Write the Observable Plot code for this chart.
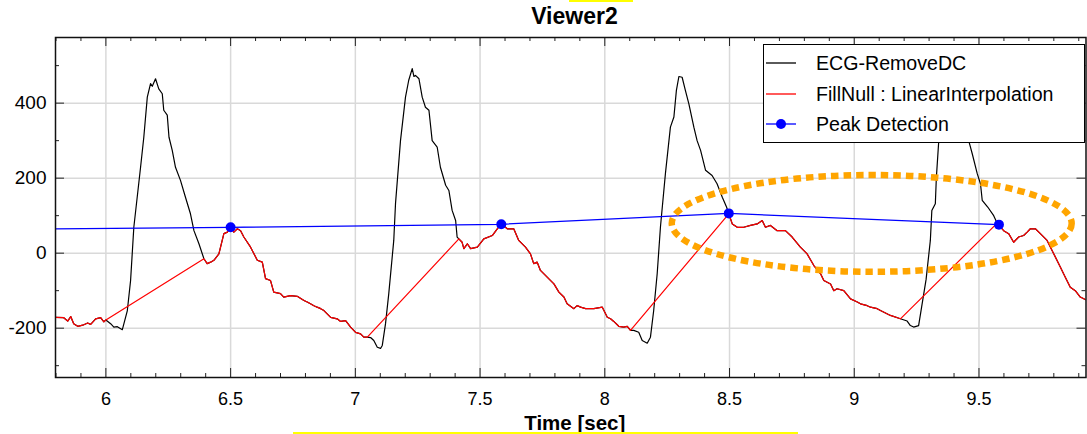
<!DOCTYPE html>
<html><head><meta charset="utf-8">
<script src="https://cdn.jsdelivr.net/npm/d3@7"></script>
<script src="https://cdn.jsdelivr.net/npm/@observablehq/plot@0.6"></script>
<style>
html,body{margin:0;padding:0;background:#fff;}
#wrap{position:relative;width:1087px;height:434px;overflow:hidden;font-family:"Liberation Sans",Arial,Helvetica,sans-serif;}
#wrap svg{position:absolute;left:0;top:0;}
.legend{position:absolute;left:763px;top:44px;width:322px;height:99px;box-sizing:border-box;border:1.5px solid #000;background:#fff;}
.lrow{position:absolute;left:0;height:22px;line-height:22px;font-size:19.6px;color:#000;white-space:nowrap;}
.lrow svg{position:absolute;left:8px;top:0;}
.lrow span{position:absolute;left:52px;top:0;}
.hl{position:absolute;background:#ffff00;}
</style></head><body><div id="wrap"></div><script>
// ---- data ----
const ecgT = [5.798,5.831,5.847,5.859,5.871,5.887,5.907,5.927,5.939,5.959,5.979,5.992,
6.000,6.019,6.032,6.046,6.066,6.086,6.099,6.112,6.139,6.152,6.166,6.179,6.186,6.199,6.212,6.226,6.232,6.246,6.253,6.266,6.279,6.299,6.319,6.339,6.353,6.373,6.393,
6.406,6.420,6.433,6.453,6.473,6.487,6.500,6.513,6.527,6.540,6.553,6.580,6.607,6.627,6.640,6.660,6.673,6.700,6.713,6.740,6.767,6.794,6.807,6.820,6.834,6.847,6.861,6.874,6.901,6.927,6.941,6.961,6.981,7.001,7.021,7.034,
7.048,7.061,7.074,7.088,7.101,7.108,7.121,7.134,7.154,7.161,7.181,7.201,7.214,7.228,7.235,7.241,7.255,7.268,7.281,7.295,7.308,7.328,7.341,7.362,7.375,7.388,7.402,7.408,7.415,
7.428,7.435,7.449,7.462,7.489,7.515,7.549,7.569,7.585,7.609,7.635,7.655,7.682,7.702,7.715,7.729,7.742,7.769,7.796,7.816,7.836,7.849,7.876,7.889,7.903,7.923,7.956,7.990,8.010,8.023,8.036,8.056,8.076,8.090,
8.103,8.116,8.136,8.150,8.170,8.183,8.196,8.210,8.223,8.243,8.263,8.277,8.287,8.297,8.310,8.323,8.337,8.357,8.370,8.384,8.404,8.430,8.450,8.471,8.488,8.497,
8.511,8.531,8.557,8.584,8.611,8.631,8.644,8.664,8.691,8.724,8.751,8.784,8.811,8.838,8.865,8.878,8.905,8.918,8.931,8.958,8.985,9.012,9.025,9.052,9.065,9.092,9.105,9.145,
9.185,9.212,9.225,9.238,9.258,9.270,9.288,9.305,9.311,9.325,9.329,9.338,9.355,9.370,9.385,9.400,9.420,9.440,9.462,9.473,9.493,9.506,9.513,9.535,9.559,9.573,
9.580,9.599,9.619,9.639,9.659,9.679,9.693,9.706,9.726,9.746,9.773,9.800,9.826,9.846,9.866,9.886,9.906,9.933];
const ecgV = [-171,-172,-181,-169,-188,-195,-192,-186,-190,-175,-172,-183,
-178,-188,-197,-196,-204,-153,-73,69,229,309,416,452,445,465,438,425,381,368,309,274,229,194,149,105,60,25,-15,
-28,-24,-19,-2,52,56,69,56,65,60,43,16,-19,-24,-68,-73,-104,-108,-117,-113,-115,-126,-130,-135,-140,-144,-148,-153,-171,-175,-182,-180,-197,-211,-215,-224,
-224,-225,-233,-251,-254,-246,-188,-108,34,132,300,416,461,492,471,474,465,416,389,381,300,283,229,181,167,114,87,43,38,
29,12,25,12,16,38,47,65,78,65,65,34,16,-2,-28,-24,-46,-64,-82,-104,-117,-135,-148,-140,-144,-148,-148,-144,-171,-175,-182,-195,-197,-195,
-206,-206,-211,-233,-240,-224,-153,-55,69,212,336,363,434,471,469,434,398,336,300,274,221,207,185,149,123,105,
78,69,69,74,78,87,69,74,60,60,43,16,-2,-33,-55,-73,-82,-100,-95,-100,-122,-130,-135,-140,-144,-148,-153,-166,
-175,-181,-193,-197,-193,-144,-70,34,114,132,200,292,400,455,472,462,400,340,292,265,212,185,141,123,100,80,
74,60,52,29,43,47,56,65,65,52,34,-2,-37,-64,-91,-100,-117,-126];
// null intervals (samples strictly inside are removed, then filled linearly)
const gapStart = [6.000, 7.048, 8.103, 9.185];
const gapEnd   = [6.393, 7.415, 8.497, 9.573];
// detected peaks
const peakT = [5.45, 6.500, 7.585, 8.497, 9.580];
const peakV = [63, 69, 77, 106, 76];
// annotation ellipse (data units)
const ellipseT = 9.072, ellipseV = 78, ellipseRT = 0.8016, ellipseRV = 129;
// ticks
const xMajor = [6, 6.5, 7, 7.5, 8, 8.5, 9, 9.5];
const xMinor = [5.8,5.9,6.1,6.2,6.3,6.4,6.6,6.7,6.8,6.9,7.1,7.2,7.3,7.4,7.6,7.7,7.8,7.9,8.1,8.2,8.3,8.4,8.6,8.7,8.8,8.9,9.1,9.2,9.3,9.4,9.6,9.7,9.8,9.9];
const yMajor = [-200, 0, 200, 400];
const yMinor = [-300, -100, 100, 300, 500];
const xDomain = [5.798, 9.929];
const yDomain = [-331.5, 575];
const titleText = "Viewer2";
const xLabel = "Time [sec]";
const seriesNames = ["ECG-RemoveDC", "FillNull : LinearInterpolation", "Peak Detection"];
const seriesColors = ["#000000", "#ff0000", "#0000ff"];

// ---- build tables ----
const ecg = ecgT.map((t, i) => ({t, v: ecgV[i]}));
const filled = ecg.filter(d => !gapStart.some((s, j) => d.t > s && d.t < gapEnd[j]));
const peaks = peakT.map((t, i) => ({t, v: peakV[i]}));

const W = 1087, H = 434, mT = 37, mB = 57, mL = 55, mR = 1.5;
const fH = H - mT - mB, fW = W - mL - mR;

function ellipseMark(index, scales) {
  const cx = scales.x(ellipseT), cy = scales.y(ellipseV);
  const rx = Math.abs(scales.x(ellipseT + ellipseRT) - cx);
  const ry = Math.abs(scales.y(ellipseV + ellipseRV) - cy);
  const e = document.createElementNS("http://www.w3.org/2000/svg", "ellipse");
  e.setAttribute("cx", cx); e.setAttribute("cy", cy);
  e.setAttribute("rx", rx); e.setAttribute("ry", ry);
  e.setAttribute("fill", "none");
  e.setAttribute("stroke", "#ffa500");
  e.setAttribute("stroke-width", 6.5);
  e.setAttribute("stroke-dasharray", "7.5,5");
  return e;
}

const plot = Plot.plot({
  width: W, height: H,
  marginTop: mT, marginBottom: mB, marginLeft: mL, marginRight: mR,
  style: {fontFamily: '"Liberation Sans", Arial, sans-serif', color: "#000", background: "transparent"},
  x: {domain: xDomain},
  y: {domain: yDomain},
  marks: [
    Plot.ruleX(xMajor, {x: d => d, stroke: "#d9d9d9", strokeWidth: 1.5}),
    Plot.ruleY(yMajor, {y: d => d, stroke: "#d9d9d9", strokeWidth: 1.5}),
    Plot.line(ecg, {x: "t", y: "v", stroke: seriesColors[0], strokeWidth: 1.2, clip: true}),
    Plot.line(filled, {x: "t", y: "v", stroke: seriesColors[1], strokeWidth: 1.2, clip: true}),
    Plot.line(peaks, {x: "t", y: "v", stroke: seriesColors[2], strokeWidth: 1.3, clip: true}),
    Plot.dot(peaks, {x: "t", y: "v", r: 5, fill: seriesColors[2], stroke: "none", clip: true}),
    ellipseMark,
    // inward ticks on all four sides
    Plot.ruleX(xMajor, {x: d => d, insetTop: fH - 9, stroke: "#222"}),
    Plot.ruleX(xMinor, {x: d => d, insetTop: fH - 4, stroke: "#222"}),
    Plot.ruleX(xMajor, {x: d => d, insetBottom: fH - 9, stroke: "#222"}),
    Plot.ruleX(xMinor, {x: d => d, insetBottom: fH - 4, stroke: "#222"}),
    Plot.ruleY(yMajor, {y: d => d, insetRight: fW - 9, stroke: "#222"}),
    Plot.ruleY(yMinor, {y: d => d, insetRight: fW - 4, stroke: "#222"}),
    Plot.ruleY(yMajor, {y: d => d, insetLeft: fW - 9, stroke: "#222"}),
    Plot.ruleY(yMinor, {y: d => d, insetLeft: fW - 4, stroke: "#222"}),
    Plot.frame({stroke: "#111", strokeWidth: 1.5}),
    Plot.axisX(xMajor, {tickSize: 0, tickPadding: 15, fontSize: 18, tickFormat: d => String(d), label: null}),
    Plot.axisY(yMajor, {tickSize: 0, tickPadding: 9, fontSize: 19, tickFormat: d => String(d), label: null}),
    Plot.text([titleText], {frameAnchor: "top", lineAnchor: "bottom", dy: -13.7, dx: 3.7, fontSize: 23, fontWeight: "bold", fill: "#000"}),
    Plot.text([xLabel], {frameAnchor: "bottom", lineAnchor: "bottom", dy: 52, dx: 4, fontSize: 20.5, fontWeight: "bold", fill: "#000"})
  ]
});
const wrap = document.getElementById("wrap");
wrap.appendChild(plot);

// legend
const lg = document.createElement("div");
lg.className = "legend";
const rowCenters = [18, 49, 79];
seriesNames.forEach((name, i) => {
  const row = document.createElement("div");
  row.className = "lrow";
  row.style.top = (rowCenters[i] - 11) + "px";
  const dot = i === 2 ? `<circle cx="17" cy="11" r="5" fill="${seriesColors[i]}"/>` : "";
  row.innerHTML = `<svg width="34" height="22"><line x1="2" x2="32" y1="11" y2="11" stroke="${seriesColors[i]}" stroke-width="1.3"/>${dot}</svg><span>${name}</span>`;
  lg.appendChild(row);
});
wrap.appendChild(lg);

// highlight marks present in the source image
const h1 = document.createElement("div"); h1.className = "hl";
Object.assign(h1.style, {left: "569px", top: "0px", width: "64px", height: "2px"});
const h2 = document.createElement("div"); h2.className = "hl";
Object.assign(h2.style, {left: "293px", top: "432px", width: "505px", height: "2px"});
wrap.appendChild(h1); wrap.appendChild(h2);
</script></body></html>
